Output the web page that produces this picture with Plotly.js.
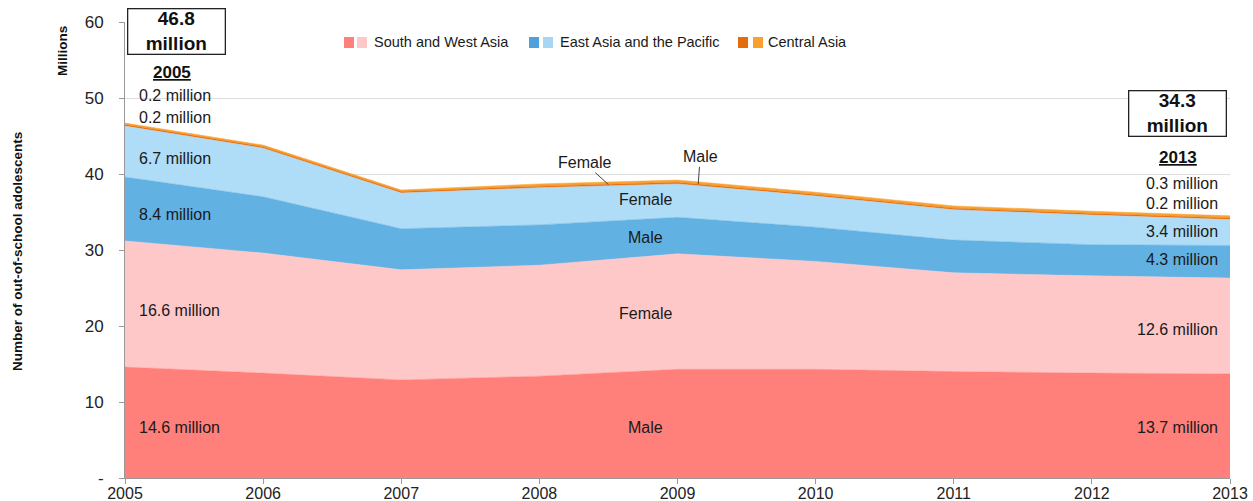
<!DOCTYPE html>
<html>
<head>
<meta charset="utf-8">
<script src="https://cdn.plot.ly/plotly-3.0.1.min.js"></script>
<style>html,body{margin:0;padding:0;background:#fff;}#chart{width:1253px;height:501px;}</style>
</head>
<body>
<div id="chart"></div>
<script>
// Data (millions of out-of-school adolescents)
const years = [2005, 2006, 2007, 2008, 2009, 2010, 2011, 2012, 2013];
const swaMale   = [14.6, 13.8, 12.9, 13.4, 14.3, 14.3, 14.0, 13.8, 13.7];
const swaFemale = [16.6, 15.8, 14.5, 14.6, 15.2, 14.2, 13.0, 12.8, 12.6];
const eapMale   = [8.4, 7.4, 5.4, 5.3, 4.8, 4.5, 4.3, 4.1, 4.3];
const eapFemale = [6.7, 6.4, 4.7, 4.9, 4.4, 4.1, 4.0, 3.9, 3.4];
const caMale    = [0.2, 0.2, 0.2, 0.2, 0.2, 0.2, 0.2, 0.2, 0.2];
const caFemale  = [0.2, 0.2, 0.2, 0.3, 0.3, 0.3, 0.3, 0.3, 0.3];
const yTickVals = [0, 10, 20, 30, 40, 50, 60];
const yTickText = ['-', '10', '20', '30', '40', '50', '60'];
const regionNames = ['South and West Asia', 'East Asia and the Pacific', 'Central Asia'];
const totals = {2005: '46.8', 2013: '34.3'};

const C = {
  swaM: '#FF7F7B', swaF: '#FFC8C8',
  eapM: '#62B1E3', eapF: '#AFDCF6',
  caM: '#E8700F', caF: '#F9A332'
};

function area(name, y, color) {
  return {
    x: years, y: y, name: name, type: 'scatter', mode: 'lines',
    stackgroup: 'one', fillcolor: color,
    line: {color: color, width: 0.5}, hoverinfo: 'y+name'
  };
}
const traces = [
  area('SWA Male', swaMale, C.swaM),
  area('SWA Female', swaFemale, C.swaF),
  area('EAP Male', eapMale, C.eapM),
  area('EAP Female', eapFemale, C.eapF),
  area('CA Male', caMale, C.caM),
  area('CA Female', caFemale, C.caF)
];

// pixel helpers for layout decorations
const L = 125, R = 1230, T = 22, B = 478;
const px = v => (v - L) / (R - L);
const py = v => (B - v) / (B - T);

const FONT = 'Liberation Sans, Arial, sans-serif';
const txt = '#1a1a1a';
const ann = [];
function label(text, x, y, xanchor, size) {
  ann.push({text: text, x: x, y: y, xref: 'x', yref: 'y', xanchor: xanchor || 'center',
    yanchor: 'middle', showarrow: false, font: {family: FONT, size: size || 16, color: txt}});
}
// 2005 side labels
const left = 2005.09;
label('0.2 million', left, 50.3, 'left');
label('0.2 million', left, 47.4, 'left');
label('6.7 million', left, 42.1, 'left');
label('8.4 million', left, 34.7, 'left');
label('16.6 million', left, 22.0, 'left');
label('14.6 million', left, 6.6, 'left');
// 2013 side labels
const right = 2012.93;
label('0.3 million', right, 38.8, 'right');
label('0.2 million', right, 36.1, 'right');
label('3.4 million', right, 32.4, 'right');
label('4.3 million', right, 28.8, 'right');
label('12.6 million', right, 19.6, 'right');
label('13.7 million', right, 6.7, 'right');
// middle labels
label('Female', 2008.77, 36.6);
label('Male', 2008.77, 31.6);
label('Female', 2008.77, 21.7);
label('Male', 2008.77, 6.6);
// callouts for Central Asia
ann.push({text: 'Female', x: 2008.5, y: 38.6, xref: 'x', yref: 'y', showarrow: true,
  arrowhead: 0, arrowwidth: 1, arrowcolor: '#444', ax: -24, ay: -22, standoff: 0,
  font: {family: FONT, size: 16, color: txt}});
ann.push({text: 'Male', x: 2009.15, y: 38.7, xref: 'x', yref: 'y', showarrow: true,
  arrowhead: 0, arrowwidth: 1, arrowcolor: '#444', ax: 2, ay: -27, standoff: 0,
  font: {family: FONT, size: 16, color: txt}});
// total boxes
function box(text, x, y) {
  ann.push({text: text, x: x, y: y, xref: 'x', yref: 'y', showarrow: false,
    xanchor: 'center', yanchor: 'middle', bgcolor: '#fff', bordercolor: '#222',
    borderwidth: 1.3, borderpad: 0, width: 96, height: 44,
    font: {family: FONT, size: 19, color: '#111'}});
}
box('<b>' + totals[2005] + '<br>million</b>', 2005.37, 58.8);
box('<b>' + totals[2013] + '<br>million</b>', 2012.62, 47.9);
ann.push({text: '<b><u>2005</u></b>', x: 2005.34, y: 53.4, xref: 'x', yref: 'y', showarrow: false,
  font: {family: FONT, size: 17, color: '#111'}});
ann.push({text: '<b><u>2013</u></b>', x: 2012.62, y: 42.2, xref: 'x', yref: 'y', showarrow: false,
  font: {family: FONT, size: 17, color: '#111'}});
// axis titles
ann.push({text: '<b>Number of out-of-school adolescents</b>', textangle: -90, xref: 'paper', yref: 'paper',
  x: px(17), y: py(252), showarrow: false, xanchor: 'center', yanchor: 'middle',
  font: {family: FONT, size: 13.5, color: '#111'}});
ann.push({text: '<b>Millions</b>', textangle: -90, xref: 'paper', yref: 'paper',
  x: px(62), y: py(51), showarrow: false, xanchor: 'center', yanchor: 'middle',
  font: {family: FONT, size: 13.5, color: '#111'}});

// custom legend
const shapes = [];
const legendItems = [
  {sq: [344, 357], tx: 372, name: regionNames[0], c: [C.swaM, C.swaF]},
  {sq: [529, 543], tx: 558, name: regionNames[1], c: ['#4FA1DC', '#A6D6F4']},
  {sq: [738, 753], tx: 766, name: regionNames[2], c: ['#E46C0A', '#F9A12E']}
];
legendItems.forEach(it => {
  it.sq.forEach((s, i) => {
    shapes.push({type: 'rect', xref: 'paper', yref: 'paper', x0: px(s), x1: px(s + 10),
      y0: py(48), y1: py(37), fillcolor: it.c[i], line: {width: 0}});
  });
  ann.push({text: it.name, xref: 'paper', yref: 'paper', x: px(it.tx), y: py(42.5),
    xanchor: 'left', yanchor: 'middle', showarrow: false,
    font: {family: FONT, size: 14.5, color: txt}});
});

const layout = {
  width: 1253, height: 501,
  margin: {l: L, r: 1253 - R, t: T, b: 501 - B},
  paper_bgcolor: '#fff', plot_bgcolor: '#fff',
  showlegend: false,
  xaxis: {range: [2005, 2013], tickvals: years, ticktext: years.map(String),
    ticks: 'outside', ticklen: 5, tickcolor: '#999', showline: true, linecolor: '#999',
    ticklabelstandoff: -4,
    showgrid: false, zeroline: false, tickfont: {family: FONT, size: 16, color: '#222'}},
  yaxis: {range: [0, 60], tickvals: yTickVals, ticktext: yTickText,
    ticks: 'outside', ticklen: 5, tickcolor: '#999', showline: true, linecolor: '#999',
    ticklabelstandoff: 12,
    showgrid: true, gridcolor: '#DDDDDD', gridwidth: 1, zeroline: false,
    tickfont: {family: FONT, size: 17, color: '#222'}},
  annotations: ann,
  shapes: shapes
};

Plotly.newPlot('chart', traces, layout, {staticPlot: true});
</script>
</body>
</html>
